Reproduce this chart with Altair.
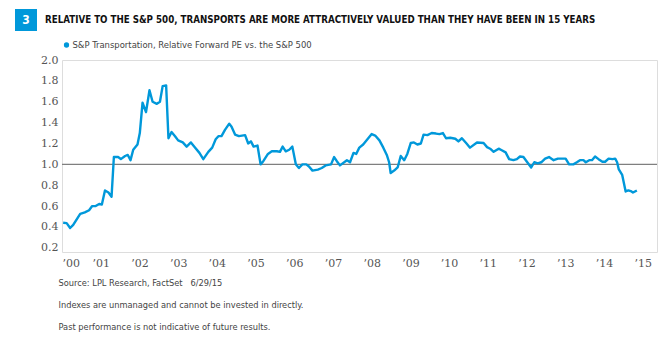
import altair as alt
import pandas as pd

# ---- data (decimal year, relative forward PE) ----
years = [
    2000.03, 2000.12, 2000.21, 2000.29, 2000.47, 2000.59, 2000.70, 2000.78, 2000.87, 2000.96,
    2001.03, 2001.11, 2001.20, 2001.28, 2001.34, 2001.45, 2001.52, 2001.63, 2001.70, 2001.77,
    2001.84, 2001.95, 2002.01, 2002.08, 2002.17, 2002.26, 2002.34, 2002.45, 2002.53, 2002.60,
    2002.69, 2002.75, 2002.83, 2002.92, 2003.00, 2003.12, 2003.22, 2003.33, 2003.44, 2003.55,
    2003.65, 2003.78, 2003.88, 2003.97, 2004.04, 2004.12, 2004.21, 2004.32, 2004.38, 2004.47,
    2004.57, 2004.73, 2004.81, 2004.88, 2004.95, 2005.05, 2005.13, 2005.20, 2005.32, 2005.42,
    2005.55, 2005.63, 2005.70, 2005.78, 2005.87, 2005.95, 2006.04, 2006.12, 2006.21, 2006.31,
    2006.38, 2006.47, 2006.61, 2006.71, 2006.81, 2006.95, 2007.03, 2007.10, 2007.18, 2007.36,
    2007.44, 2007.53, 2007.60, 2007.68, 2007.78, 2007.89, 2008.00, 2008.09, 2008.20, 2008.30,
    2008.39, 2008.45, 2008.49, 2008.58, 2008.67, 2008.75, 2008.84, 2008.92, 2009.01, 2009.09,
    2009.18, 2009.27, 2009.34, 2009.44, 2009.55, 2009.66, 2009.75, 2009.84, 2009.92, 2010.03,
    2010.16, 2010.24, 2010.33, 2010.45, 2010.54, 2010.72, 2010.89, 2010.98, 2011.06, 2011.15,
    2011.28, 2011.36, 2011.46, 2011.55, 2011.66, 2011.75, 2011.83, 2011.92, 2012.00, 2012.12,
    2012.20, 2012.29, 2012.38, 2012.48, 2012.58, 2012.70, 2012.81, 2012.91, 2013.01, 2013.10,
    2013.21, 2013.30, 2013.38, 2013.47, 2013.53, 2013.62, 2013.69, 2013.77, 2013.86, 2013.96,
    2014.03, 2014.12, 2014.22, 2014.29, 2014.34, 2014.38, 2014.47, 2014.56, 2014.63, 2014.71,
    2014.75, 2014.85,
]
values = [
    0.44, 0.437, 0.39, 0.42, 0.526, 0.54, 0.56, 0.60, 0.60, 0.62,
    0.615, 0.75, 0.73, 0.69, 1.07, 1.07, 1.05, 1.08, 1.09, 1.04,
    1.14, 1.19, 1.30, 1.59, 1.50, 1.71, 1.60, 1.58, 1.60, 1.75,
    1.757, 1.25, 1.31, 1.27, 1.23, 1.21, 1.17, 1.21, 1.16, 1.11,
    1.05, 1.12, 1.16, 1.24, 1.27, 1.27, 1.33, 1.39, 1.36, 1.285,
    1.27, 1.28, 1.20, 1.22, 1.17, 1.18, 1.00, 1.03, 1.10, 1.125,
    1.125, 1.12, 1.17, 1.125, 1.14, 1.17, 1.00, 0.965, 1.00, 1.00,
    0.98, 0.94, 0.95, 0.965, 0.99, 1.00, 1.07, 1.03, 0.99, 1.04,
    1.02, 1.11, 1.10, 1.16, 1.19, 1.24, 1.29, 1.276, 1.23, 1.16,
    1.09, 1.02, 0.917, 0.94, 0.97, 1.08, 1.04, 1.10, 1.205, 1.21,
    1.19, 1.20, 1.285, 1.28, 1.30, 1.295, 1.29, 1.30, 1.25, 1.255,
    1.245, 1.22, 1.25, 1.20, 1.16, 1.21, 1.205, 1.165, 1.15, 1.12,
    1.15, 1.135, 1.115, 1.05, 1.04, 1.05, 1.075, 1.07, 1.03, 0.97,
    1.02, 1.01, 1.02, 1.055, 1.07, 1.04, 1.055, 1.055, 1.055, 1.00,
    1.00, 1.02, 1.04, 1.04, 1.02, 1.04, 1.04, 1.075, 1.05, 1.025,
    1.025, 1.055, 1.05, 1.055, 1.02, 0.955, 0.90, 0.74, 0.75, 0.74,
    0.73, 0.75,
]

x_ticks = list(range(2000, 2016))
y_ticks = [0.2, 0.4, 0.6, 0.8, 1.0, 1.2, 1.4, 1.6, 1.8, 2.0]
reference_level = [1.0]

badge_text = ["3"]
title_text = ["RELATIVE TO THE S&P 500, TRANSPORTS ARE MORE ATTRACTIVELY VALUED THAN THEY HAVE BEEN IN 15 YEARS"]
legend_text = ["S&P Transportation, Relative Forward PE vs. the S&P 500"]
footer_lines = [
    "Source: LPL Research, FactSet\u00a0\u00a0\u00a06/29/15",
    "Indexes are unmanaged and cannot be invested in directly.",
    "Past performance is not indicative of future results.",
]

BLUE = "#0098da"
NARROW = "Liberation Sans Narrow, DejaVu Sans Condensed, Roboto, sans-serif"
SLAB = "DejaVu Serif, serif"

df = pd.DataFrame({"year": years, "value": values})

x_enc = alt.X(
    "year:Q",
    scale=alt.Scale(domain=[2000, 2015.37], nice=False, zero=False),
    axis=alt.Axis(
        values=x_ticks, title=None, grid=False, domain=False, ticks=False,
        labelExpr="'\u2019' + slice(toString(datum.value), 2)",
        labelFont=SLAB, labelFontSize=11, labelColor="#555555", labelPadding=5,
        labelOverlap=False,
    ),
)
y_enc = alt.Y(
    "value:Q",
    scale=alt.Scale(domain=[0.16, 2.0], nice=False, zero=False),
    axis=alt.Axis(
        values=y_ticks, format=".1f", title=None, grid=False, domain=False, ticks=False,
        labelFont=SLAB, labelFontSize=11, labelColor="#555555", labelPadding=4,
        labelOverlap=False, labelBound=False,
    ),
)

line = alt.Chart(df).mark_line(color=BLUE, strokeWidth=2.4, strokeJoin="round").encode(x=x_enc, y=y_enc)

rule = alt.Chart(pd.DataFrame({"value": reference_level})).mark_rule(
    color="#7f7f7f", strokeWidth=1.2
).encode(y=y_enc)

badge = alt.Chart(pd.DataFrame({"t": badge_text})).mark_rect(color=BLUE).encode(
    x=alt.value(-47), x2=alt.value(-25), y=alt.value(-51), y2=alt.value(-29)
)
badge_label = alt.Chart(pd.DataFrame({"t": badge_text})).mark_text(
    color="white", font=NARROW, fontWeight="bold", fontSize=12, align="center", baseline="middle"
).encode(text="t:N", x=alt.value(-36), y=alt.value(-40))

title = alt.Chart(pd.DataFrame({"t": title_text})).mark_text(
    color="#111111", font=NARROW, fontWeight="bold", fontSize=9.7, align="left", baseline="middle"
).encode(text="t:N", x=alt.value(-17), y=alt.value(-40.5))

legend_dot = alt.Chart(pd.DataFrame({"t": legend_text})).mark_circle(
    color=BLUE, opacity=1, size=28
).encode(x=alt.value(4.5), y=alt.value(-15))
legend_label = alt.Chart(pd.DataFrame({"t": legend_text})).mark_text(
    color="#444444", font=NARROW, fontSize=9.4, align="left", baseline="middle"
).encode(text="t:N", x=alt.value(10.5), y=alt.value(-15))

footer_layers = []
for line_text, ypos in zip(footer_lines, [223, 245, 267]):
    footer_layers.append(
        alt.Chart(pd.DataFrame({"t": [line_text]})).mark_text(
            color="#444444", font=NARROW, fontSize=9.2, align="left", baseline="middle"
        ).encode(text="t:N", x=alt.value(-3.5), y=alt.value(ypos))
    )

chart = alt.layer(
    rule, line, badge, badge_label, title, legend_dot, legend_label, *footer_layers
).properties(
    width=595,
    height=192,
    autosize=alt.AutoSizeParams(type="none"),
    padding={"left": 54, "top": 52, "right": 6, "bottom": 90},
).configure_view(fill="#eeeeee", stroke=None).configure(background="white")

chart.save("out.html", embed_options={"renderer": "svg", "actions": False})
